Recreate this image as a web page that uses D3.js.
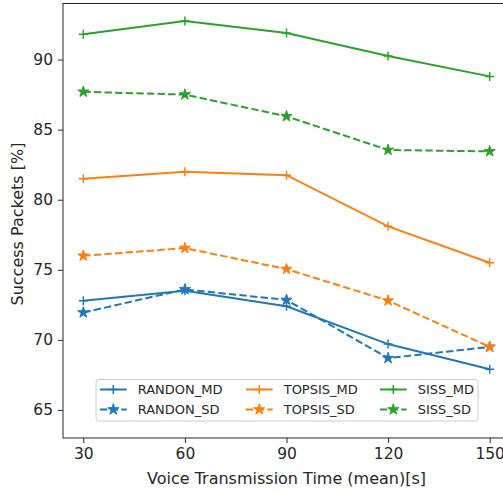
<!DOCTYPE html>
<html>
<head>
<meta charset="utf-8">
<script src="https://cdn.jsdelivr.net/npm/d3@7"></script>
<style>
  body { margin: 0; background: #fff; }
  svg text { font-family: "DejaVu Sans", sans-serif; fill: #262626; }
  .axis path, .axis line { stroke: #262626; }
</style>
</head>
<body>
<div id="chart"></div>
<script>
// x values (voice transmission time)
var times = [30, 60, 90, 120, 150];
var xTicks = [30, 60, 90, 120, 150];
var yTicks = [65, 70, 75, 80, 85, 90];

// series values
var randonMD = [72.8, 73.5, 72.4, 69.7, 67.9];
var randonSD = [71.95, 73.6, 72.85, 68.7, 69.5];
var topsisMD = [81.5, 82.0, 81.75, 78.1, 75.5];
var topsisSD = [76.0, 76.55, 75.05, 72.8, 69.5];
var sissMD = [91.8, 92.75, 91.9, 90.25, 88.8];
var sissSD = [87.7, 87.5, 85.95, 83.55, 83.45];

var seriesNames = ["RANDON_MD", "RANDON_SD", "TOPSIS_MD", "TOPSIS_SD", "SISS_MD", "SISS_SD"];
var seriesValues = [randonMD, randonSD, topsisMD, topsisSD, sissMD, sissSD];
var colors = ["#1f77b4", "#1f77b4", "#ff7f0e", "#ff7f0e", "#2ca02c", "#2ca02c"];

var series = seriesNames.map(function(name, i) {
    return {
        name: name,
        color: colors[i],
        dashed: i % 2 === 1,
        values: seriesValues[i].map(function(v, j) { return {t: times[j], v: v}; })
    };
});

var W = 503, H = 491;
var margin = {top: 3.5, right: -7, bottom: 53, left: 63};
var width = W - margin.left - margin.right,
    height = H - margin.top - margin.bottom;

var svg = d3.select("#chart").append("svg")
    .attr("width", W)
    .attr("height", H);

var g = svg.append("g")
    .attr("transform", "translate(" + margin.left + "," + margin.top + ")");

var x = d3.scaleLinear().domain([24, 156]).range([0, width]);
var y = d3.scaleLinear().domain([63, 94]).range([height, 0]);

// frame
g.append("rect")
    .attr("x", 0).attr("y", 0)
    .attr("width", width).attr("height", height)
    .attr("fill", "none")
    .attr("stroke", "#262626")
    .attr("stroke-width", 1);

var xAxis = d3.axisBottom(x).tickValues(xTicks).tickSize(5).tickPadding(5);
var yAxis = d3.axisLeft(y).tickValues(yTicks).tickSize(5).tickPadding(5);

var xg = g.append("g")
    .attr("class", "axis")
    .attr("transform", "translate(0," + height + ")")
    .call(xAxis);
var yg = g.append("g")
    .attr("class", "axis")
    .call(yAxis);
xg.select(".domain").remove();
yg.select(".domain").remove();
g.selectAll(".axis text").style("font-size", "15.5px").attr("fill", "#262626");
g.selectAll(".axis line").attr("stroke", "#262626");

// axis labels
svg.append("text")
    .attr("x", margin.left + width / 2)
    .attr("y", 484)
    .attr("text-anchor", "middle")
    .style("font-size", "16px")
    .text("Voice Transmission Time (mean)[s]");

svg.append("text")
    .attr("transform", "translate(22.5,224) rotate(-90)")
    .attr("text-anchor", "middle")
    .style("font-size", "16px")
    .text("Success Packets [%]");

var line = d3.line()
    .x(function(d) { return x(d.t); })
    .y(function(d) { return y(d.v); });

var star = d3.symbol().type(d3.symbolStar).size(38);

function drawMarker(sel, s) {
    if (s.dashed) {
        sel.append("path")
            .attr("d", star)
            .attr("fill", s.color)
            .attr("stroke", s.color)
            .attr("stroke-width", 1);
    } else {
        sel.append("path")
            .attr("d", "M-4.5,0H4.5M0,-4.5V4.5")
            .attr("fill", "none")
            .attr("stroke", s.color)
            .attr("stroke-width", 1.5);
    }
}

var plot = g.append("g");

series.forEach(function(s) {
    plot.append("path")
        .datum(s.values)
        .attr("fill", "none")
        .attr("stroke", s.color)
        .attr("stroke-width", 2)
        .attr("stroke-dasharray", s.dashed ? "7.4,3.2" : null)
        .attr("d", line);

    plot.selectAll(null)
        .data(s.values)
        .enter()
        .append("g")
        .attr("transform", function(d) { return "translate(" + x(d.t) + "," + y(d.v) + ")"; })
        .each(function() { drawMarker(d3.select(this), s); });
});

// legend (3 columns, column-major)
var legend = svg.append("g").attr("transform", "translate(96,379.5)");
legend.append("rect")
    .attr("width", 382)
    .attr("height", 41.5)
    .attr("rx", 3)
    .attr("fill", "rgba(255,255,255,0.8)")
    .attr("stroke", "#cccccc")
    .attr("stroke-width", 1);

var colX = [4, 150, 284];
var rowY = [10, 30];

series.forEach(function(s, i) {
    var col = Math.floor(i / 2), row = i % 2;
    var item = legend.append("g")
        .attr("transform", "translate(" + colX[col] + "," + rowY[row] + ")");
    item.append("line")
        .attr("x1", 0).attr("x2", 26.7)
        .attr("y1", 0).attr("y2", 0)
        .attr("stroke", s.color)
        .attr("stroke-width", 2)
        .attr("stroke-dasharray", s.dashed ? "7.4,3.2" : null);
    var m = item.append("g").attr("transform", "translate(13.3,0)");
    drawMarker(m, s);
    item.append("text")
        .attr("x", 37.7)
        .attr("y", 0)
        .attr("dy", "0.36em")
        .style("font-size", "13px")
        .text(s.name);
});
</script>
</body>
</html>
